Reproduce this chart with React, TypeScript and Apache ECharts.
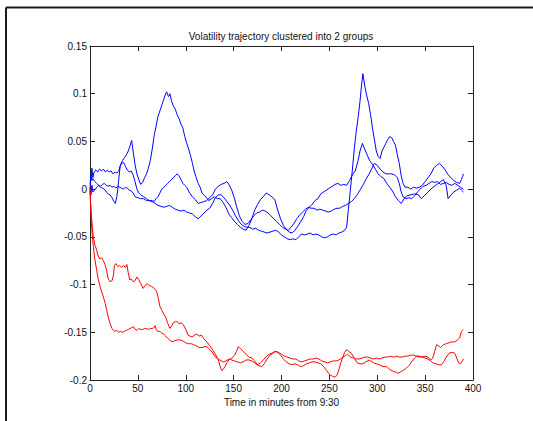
import React, { useEffect, useRef } from "react";
import * as echarts from "echarts";

const titleText = "Volatility trajectory clustered into 2 groups";
const xAxisLabel = "Time in minutes from 9:30";
const xMin = 0;
const xMax = 400;
const xStep = 50;
const yMin = -0.2;
const yMax = 0.15;
const yStep = 0.05;

// Blue cluster (3 trajectories), [minute, value]
const blueA: [number, number][] = [
  [0,0],[1,0.012],[2,0.022],[3,0.012],[4,0.017],[6,0.02],[8,0.018],[10,0.021],[12,0.019],[14,0.021],[16,0.018],[18,0.02],[20,0.018],[22,0.019],[24,0.016],[26,0.018],[28,0.017],[30,0.019],[32,0.026],[34,0.03],[36,0.033],[38,0.036],[40,0.04],[42,0.046],[43.5,0.051],[45,0.04],[47,0.026],[49,0.016],[51,0.01],[53,0.005],[55,0.007],[57,0.012],[59,0.016],[61,0.022],[63,0.03],[65,0.042],[67,0.056],[69,0.066],[71,0.076],[73,0.082],[75,0.088],[77,0.094],[79,0.1],[80,0.102],[82,0.097],[83.5,0.1],[85,0.093],[87,0.087],[89,0.084],[91,0.078],[93,0.074],[95,0.068],[97,0.064],[99,0.055],[101,0.048],[103,0.042],[105,0.035],[107,0.027],[109,0.018],[111,0.012],[113,0.006],[115,0.002],[117,-0.004],[119,-0.006],[121,-0.008],[124,-0.012],[127,-0.01],[130,-0.008],[133,-0.01],[136,-0.01],[139,-0.014],[142,-0.019],[145,-0.026],[148,-0.03],[151,-0.034],[154,-0.037],[157,-0.04],[160,-0.042],[163,-0.043],[166,-0.038],[169,-0.031],[172,-0.022],[175,-0.016],[178,-0.011],[181,-0.008],[184,-0.004],[187,-0.006],[190,-0.008],[193,-0.011],[196,-0.022],[199,-0.031],[202,-0.038],[205,-0.042],[208,-0.045],[211,-0.046],[214,-0.043],[217,-0.039],[220,-0.034],[223,-0.029],[226,-0.022],[229,-0.019],[232,-0.016],[235,-0.012],[238,-0.01],[241,-0.005],[244,-0.003],[247,-0.001],[250,0.001],[253,0.003],[256,0.005],[259,0.006],[262,0.004],[265,0.005],[268,0.004],[271,0.009],[274,0.015],[277,0.019],[280,0.03],[282,0.04],[284.5,0.048],[286,0.044],[289,0.037],[292,0.03],[295,0.026],[298,0.021],[301,0.016],[304,0.013],[307,0.011],[310,0.006],[313,0.002],[316,-0.002],[319,-0.008],[322,-0.012],[325,-0.015],[328,-0.01],[331,-0.007],[335,-0.006],[339,-0.005],[343,-0.006],[346,-0.01],[349,-0.007],[353,-0.003],[357,0.001],[361,0.004],[365,0.007],[369,0.01],[372,0.004],[374,-0.01],[377,-0.006],[380,-0.003],[383,-0.001],[386,0.001],[388,-0.001],[390,-0.003]
];

const blueB: [number, number][] = [
  [0,0.005],[1,0.015],[2,0.009],[3,0.011],[5,0.008],[7,0.006],[9,0.004],[11,0.002],[13,0.001],[15,0.0],[17,-0.003],[19,-0.005],[21,-0.006],[23,-0.009],[25,-0.013],[26.5,-0.015],[28,-0.008],[29,0.0],[30,0.01],[31.5,0.024],[33,0.027],[35,0.028],[37,0.024],[39,0.02],[41,0.018],[43,0.019],[45,0.015],[47,0.008],[49,0.0],[51,-0.004],[53,-0.006],[56,-0.008],[59,-0.01],[62,-0.012],[65,-0.012],[67,-0.013],[69,-0.01],[71,-0.008],[73,-0.004],[75,0.0],[77,0.002],[79,0.004],[81,0.006],[83,0.008],[85,0.01],[87,0.012],[89,0.014],[91,0.016],[93,0.014],[95,0.01],[97,0.006],[99,0.004],[101,0.002],[104,-0.004],[107,-0.008],[110,-0.011],[113,-0.015],[116,-0.014],[119,-0.013],[122,-0.012],[125,-0.009],[128,-0.006],[131,0.0],[134,0.003],[137,0.005],[140,0.006],[143,0.008],[145,0.005],[148,-0.001],[151,-0.01],[153,-0.018],[156,-0.028],[159,-0.034],[162,-0.037],[165,-0.036],[168,-0.032],[171,-0.028],[174,-0.025],[177,-0.024],[180,-0.022],[183,-0.023],[186,-0.025],[189,-0.028],[192,-0.031],[195,-0.034],[198,-0.037],[201,-0.04],[204,-0.042],[207,-0.043],[210,-0.04],[213,-0.036],[216,-0.031],[219,-0.027],[222,-0.024],[225,-0.021],[228,-0.019],[231,-0.02],[234,-0.02],[237,-0.022],[240,-0.021],[243,-0.022],[246,-0.023],[249,-0.024],[252,-0.023],[255,-0.021],[258,-0.02],[261,-0.02],[264,-0.018],[267,-0.017],[270,-0.015],[273,-0.013],[276,-0.01],[279,-0.006],[282,-0.001],[285,0.004],[288,0.01],[291,0.015],[294,0.021],[297,0.027],[300,0.025],[303,0.021],[306,0.018],[309,0.016],[312,0.016],[315,0.016],[318,0.015],[321,0.012],[323,0.006],[325,-0.003],[327,-0.008],[330,-0.01],[333,-0.009],[336,-0.01],[339,-0.007],[342,-0.003],[345,0.0],[348,0.003],[351,0.004],[354,0.006],[357,0.008],[360,0.007],[363,0.008],[366,0.005],[369,0.006],[372,0.007],[375,0.005],[378,0.004],[381,0.006],[384,0.004],[387,0.002],[390,0.0]
];

const blueC: [number, number][] = [
  [0,-0.002],[1,-0.006],[2,0.004],[3,-0.003],[5,-0.001],[7,0.002],[9,0.004],[11,0.003],[13,0.005],[15,0.006],[17,0.004],[19,0.003],[21,0.004],[23,0.002],[25,0.003],[27,0.001],[29,0.003],[31,0.002],[33,0.001],[35,0.0],[37,0.002],[39,0.001],[41,-0.001],[43,-0.002],[45,-0.004],[47,-0.008],[50,-0.009],[53,-0.01],[56,-0.01],[59,-0.012],[62,-0.012],[65,-0.013],[68,-0.015],[71,-0.017],[74,-0.018],[77,-0.019],[80,-0.018],[83,-0.017],[86,-0.019],[89,-0.021],[92,-0.022],[95,-0.023],[98,-0.022],[101,-0.024],[104,-0.025],[107,-0.026],[110,-0.029],[113,-0.031],[116,-0.028],[119,-0.025],[122,-0.022],[125,-0.02],[128,-0.015],[131,-0.009],[134,-0.006],[137,-0.006],[140,-0.009],[143,-0.013],[146,-0.017],[149,-0.022],[152,-0.028],[155,-0.033],[158,-0.037],[161,-0.039],[164,-0.04],[167,-0.04],[170,-0.042],[173,-0.041],[176,-0.043],[179,-0.044],[182,-0.045],[185,-0.046],[188,-0.045],[191,-0.044],[194,-0.043],[197,-0.045],[200,-0.048],[203,-0.05],[206,-0.052],[209,-0.053],[212,-0.052],[215,-0.053],[218,-0.05],[221,-0.047],[224,-0.048],[227,-0.047],[230,-0.046],[233,-0.048],[236,-0.047],[239,-0.048],[242,-0.05],[245,-0.051],[248,-0.05],[251,-0.048],[254,-0.047],[257,-0.048],[260,-0.046],[263,-0.045],[266,-0.043],[268,-0.04],[270,-0.02],[272,0.0],[274,0.02],[276,0.042],[278,0.06],[280,0.075],[282,0.092],[283.5,0.108],[285,0.121],[287,0.108],[289,0.098],[291,0.09],[293,0.078],[295,0.064],[297,0.052],[299,0.04],[301,0.034],[303,0.032],[305,0.04],[307,0.044],[309,0.048],[311,0.052],[313,0.055],[315,0.054],[317,0.05],[319,0.046],[321,0.036],[323,0.027],[325,0.014],[327,0.006],[329,0.002],[332,0.002],[335,0.0],[338,0.002],[341,0.001],[344,0.002],[347,0.004],[350,0.008],[353,0.012],[356,0.016],[359,0.022],[362,0.025],[365,0.027],[368,0.024],[371,0.02],[374,0.015],[377,0.012],[380,0.009],[383,0.007],[386,0.006],[388,0.01],[389,0.013],[390,0.016]
];

// Red cluster (2 trajectories)
const redA: [number, number][] = [
  [0,0],[0.5,-0.012],[1.5,-0.028],[2.5,-0.04],[3.5,-0.05],[5,-0.058],[7,-0.064],[8.5,-0.07],[10,-0.073],[12,-0.072],[14,-0.075],[16,-0.08],[17.5,-0.086],[19,-0.094],[21,-0.097],[23,-0.096],[24.5,-0.09],[25.5,-0.08],[27,-0.078],[29,-0.081],[31,-0.08],[33,-0.082],[35,-0.08],[37,-0.082],[38.5,-0.079],[40,-0.088],[41.5,-0.095],[43,-0.094],[45,-0.097],[47,-0.096],[49,-0.092],[51,-0.095],[53,-0.099],[55.5,-0.104],[57.5,-0.101],[59.5,-0.099],[62,-0.101],[64.5,-0.102],[67,-0.104],[69.5,-0.107],[71.5,-0.115],[73,-0.123],[75,-0.127],[77,-0.131],[79,-0.134],[81,-0.14],[83.5,-0.146],[85.5,-0.143],[87,-0.14],[89,-0.139],[91,-0.139],[93,-0.141],[95,-0.14],[97.5,-0.142],[100,-0.147],[102.5,-0.153],[104.5,-0.154],[106.5,-0.155],[109,-0.153],[111.5,-0.152],[114,-0.154],[116.5,-0.153],[119,-0.157],[122,-0.16],[125,-0.164],[128.5,-0.169],[131,-0.173],[134,-0.179],[136,-0.186],[137.5,-0.19],[139,-0.189],[141,-0.186],[143,-0.182],[145,-0.179],[148,-0.177],[151,-0.174],[153,-0.17],[155,-0.165],[157,-0.167],[160,-0.17],[163,-0.173],[166,-0.176],[169,-0.177],[172,-0.18],[175,-0.184],[178,-0.182],[181,-0.179],[184.5,-0.175],[187,-0.173],[190,-0.172],[193,-0.17],[196,-0.171],[199,-0.174],[202,-0.178],[205,-0.181],[208,-0.183],[211,-0.184],[214,-0.183],[217,-0.184],[220,-0.186],[223,-0.185],[226,-0.183],[229,-0.182],[232,-0.181],[235,-0.181],[238,-0.182],[241,-0.183],[244,-0.186],[247,-0.19],[250,-0.194],[253,-0.196],[256,-0.197],[258,-0.195],[260,-0.189],[262,-0.182],[264,-0.176],[266,-0.171],[268,-0.168],[270,-0.17],[273,-0.172],[276,-0.177],[279,-0.182],[282,-0.183],[285,-0.183],[288,-0.181],[292,-0.179],[296,-0.182],[299,-0.183],[302,-0.184],[306,-0.186],[310,-0.186],[313,-0.189],[317,-0.191],[320,-0.192],[322,-0.193],[325,-0.191],[327,-0.19],[330,-0.188],[333,-0.185],[336,-0.181],[339,-0.177],[341,-0.175],[344,-0.175],[347,-0.176],[350,-0.175],[353,-0.176],[356,-0.179],[358,-0.177],[360,-0.17],[362,-0.163],[364,-0.164],[366,-0.166],[369,-0.163],[372,-0.162],[375,-0.161],[378,-0.16],[381,-0.16],[384,-0.158],[386,-0.156],[388,-0.149],[390,-0.147]
];

const redB: [number, number][] = [
  [0,0],[0.5,-0.015],[1.5,-0.035],[2.5,-0.05],[3.5,-0.06],[5,-0.073],[7,-0.085],[8.5,-0.094],[10.5,-0.102],[12,-0.107],[14,-0.113],[16,-0.12],[17.5,-0.127],[19,-0.134],[21,-0.141],[23,-0.146],[24.5,-0.148],[26,-0.149],[28,-0.148],[30,-0.15],[32,-0.149],[34,-0.15],[36,-0.149],[38,-0.148],[40,-0.147],[42,-0.146],[44,-0.145],[45.5,-0.144],[47,-0.147],[49,-0.148],[51,-0.146],[53,-0.147],[55,-0.147],[57,-0.146],[59,-0.146],[61,-0.147],[63,-0.146],[65,-0.146],[67,-0.145],[68,-0.143],[69.5,-0.148],[71,-0.149],[73,-0.149],[75,-0.151],[77,-0.152],[79,-0.154],[81,-0.156],[83,-0.158],[85.5,-0.16],[88,-0.159],[91,-0.158],[94,-0.158],[97,-0.159],[100,-0.161],[103,-0.162],[106,-0.162],[108,-0.163],[111,-0.164],[114,-0.166],[117,-0.166],[120,-0.165],[122,-0.165],[125,-0.168],[128.5,-0.172],[131,-0.176],[134,-0.178],[137,-0.18],[139.5,-0.181],[142,-0.18],[145,-0.178],[148,-0.179],[151,-0.18],[154,-0.181],[157,-0.182],[160,-0.181],[163,-0.179],[166,-0.179],[169,-0.18],[172,-0.182],[174,-0.184],[177,-0.185],[179.5,-0.186],[182,-0.183],[185,-0.178],[188,-0.174],[191,-0.172],[194,-0.17],[197,-0.171],[200,-0.173],[203,-0.175],[206,-0.176],[209,-0.177],[212,-0.178],[215,-0.178],[218,-0.18],[221,-0.181],[224,-0.18],[227,-0.179],[230,-0.178],[233,-0.178],[236,-0.177],[239,-0.178],[242,-0.18],[245,-0.181],[248,-0.182],[251,-0.181],[254,-0.18],[257,-0.18],[260,-0.179],[263,-0.177],[266,-0.175],[269,-0.173],[272,-0.176],[275,-0.177],[278,-0.178],[281,-0.178],[284,-0.177],[287,-0.176],[290,-0.176],[293,-0.177],[296,-0.178],[299,-0.177],[302,-0.178],[305,-0.177],[308,-0.176],[311,-0.176],[314,-0.175],[317,-0.176],[320,-0.175],[323,-0.176],[326,-0.176],[329,-0.175],[332,-0.175],[335,-0.174],[338,-0.174],[341,-0.175],[344,-0.176],[347,-0.176],[350,-0.177],[353,-0.178],[356,-0.18],[358,-0.182],[361,-0.183],[364,-0.184],[367,-0.184],[370,-0.18],[372,-0.176],[375,-0.172],[378,-0.171],[381,-0.172],[383,-0.177],[385,-0.182],[387,-0.183],[389,-0.18],[390,-0.178]
];

const blueSeries = [blueA, blueB, blueC];
const redSeries = [redA, redB];

const FONT = "'Liberation Sans', Arial, Helvetica, sans-serif";
const AXIS_COLOR = "#222";
const TEXT_COLOR = "#111";

export default function App() {
  const ref = useRef<HTMLDivElement>(null);

  useEffect(() => {
    if (!ref.current) return;
    const chart = echarts.init(ref.current, null, { renderer: "svg" });

    const tickStyle = { inside: true, length: 5, lineStyle: { color: AXIS_COLOR, width: 1 } };
    const lineStyle = { show: true, onZero: false, lineStyle: { color: AXIS_COLOR, width: 1 } };
    const yFmt = (v: number) => String(Math.round(v * 100) / 100);

    const mk = (data: [number, number][], color: string) => ({
      type: "line",
      data,
      showSymbol: false,
      symbol: "none",
      silent: true,
      color,
      lineStyle: { color, width: 1 },
      xAxisIndex: 0,
      yAxisIndex: 0,
    });

    chart.setOption({
      animation: false,
      backgroundColor: "#ffffff",
      title: {
        text: titleText,
        left: 276,
        top: 26,
        textAlign: "center",
        textStyle: { fontFamily: FONT, fontSize: 10, fontWeight: "normal", color: TEXT_COLOR },
      },
      grid: { left: 90, right: 60, top: 46, bottom: 41, containLabel: false },
      xAxis: [
        {
          type: "value",
          position: "bottom",
          min: xMin,
          max: xMax,
          interval: xStep,
          axisLine: lineStyle,
          axisTick: tickStyle,
          splitLine: { show: false },
          axisLabel: { color: TEXT_COLOR, fontFamily: FONT, fontSize: 10, margin: 3 },
          name: xAxisLabel,
          nameLocation: "middle",
          nameGap: 16,
          nameTextStyle: { color: TEXT_COLOR, fontFamily: FONT, fontSize: 10 },
        },
        {
          type: "value",
          position: "top",
          min: xMin,
          max: xMax,
          interval: xStep,
          axisLine: lineStyle,
          axisTick: tickStyle,
          splitLine: { show: false },
          axisLabel: { show: false },
        },
      ],
      yAxis: [
        {
          type: "value",
          position: "left",
          min: yMin,
          max: yMax,
          interval: yStep,
          axisLine: lineStyle,
          axisTick: tickStyle,
          splitLine: { show: false },
          axisLabel: { color: TEXT_COLOR, fontFamily: FONT, fontSize: 10, margin: 3, formatter: yFmt },
        },
        {
          type: "value",
          position: "right",
          min: yMin,
          max: yMax,
          interval: yStep,
          axisLine: lineStyle,
          axisTick: tickStyle,
          splitLine: { show: false },
          axisLabel: { show: false },
        },
      ],
      graphic: [
        { type: "line", silent: true, shape: { x1: 6, y1: 7.5, x2: 533, y2: 7.5 }, style: { stroke: "#1a1a1a", lineWidth: 2 } },
        { type: "line", silent: true, shape: { x1: 6, y1: 7.5, x2: 6, y2: 421 }, style: { stroke: "#1a1a1a", lineWidth: 2 } },
      ],
      series: [
        ...blueSeries.map((d) => mk(d, "#0000ff")),
        ...redSeries.map((d) => mk(d, "#ff0000")),
      ],
    });

    return () => chart.dispose();
  }, []);

  return (
    <div
      ref={ref}
      style={{ position: "absolute", left: 0, top: 0, width: 533, height: 421, background: "#fff" }}
    />
  );
}
